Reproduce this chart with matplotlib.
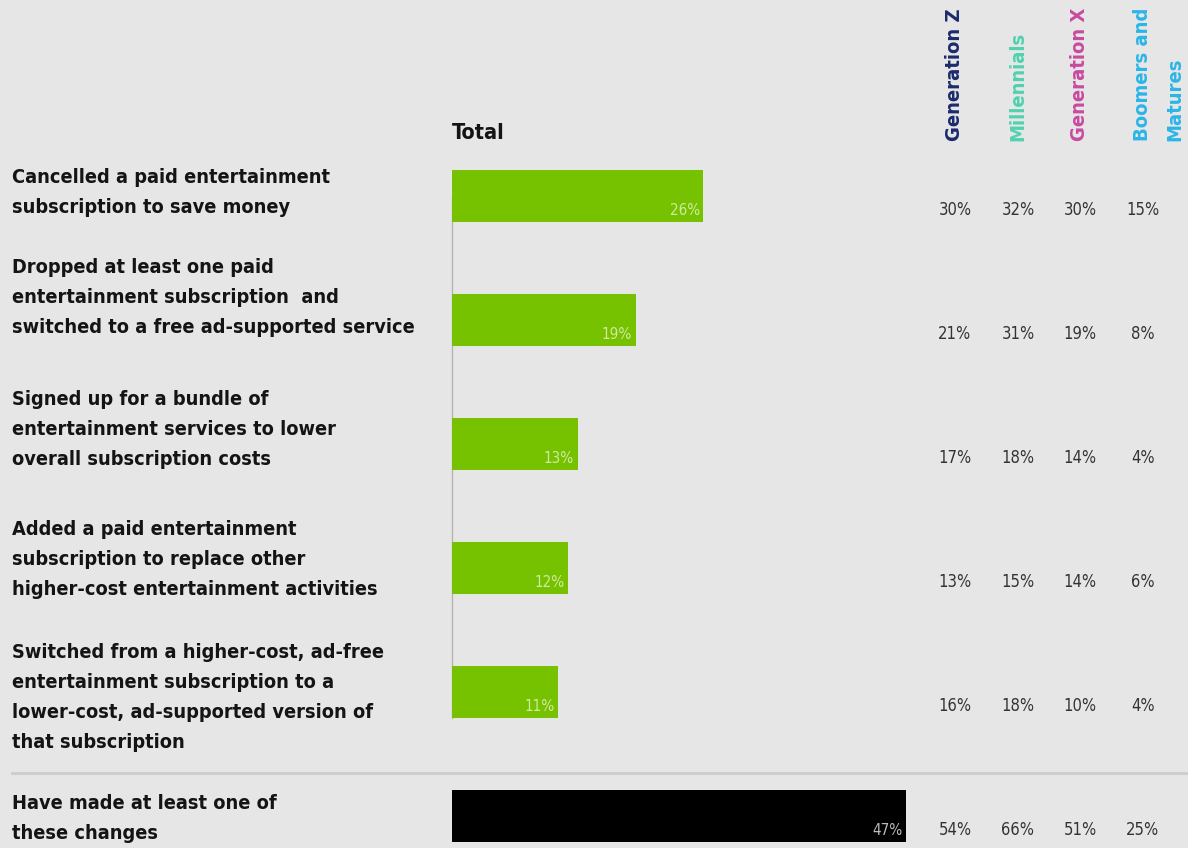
import matplotlib
matplotlib.use('Agg')
import matplotlib.pyplot as plt
from matplotlib import font_manager
from matplotlib.font_manager import FontProperties

# --- data ---
items = [
    "Cancelled a paid entertainment\nsubscription to save money",
    "Dropped at least one paid\nentertainment subscription  and\nswitched to a free ad-supported service",
    "Signed up for a bundle of\nentertainment services to lower\noverall subscription costs",
    "Added a paid entertainment\nsubscription to replace other\nhigher-cost entertainment activities",
    "Switched from a higher-cost, ad-free\nentertainment subscription to a\nlower-cost, ad-supported version of\nthat subscription",
    "Have made at least one of\nthese changes",
]
total = [26, 19, 13, 12, 11, 47]
generations = ["Generation Z", "Millennials", "Generation X", "Boomers and\nMatures"]
gen_z = [30, 21, 17, 13, 16, 54]
millennials = [32, 31, 18, 15, 18, 66]
gen_x = [30, 19, 14, 14, 10, 51]
boomers = [15, 8, 4, 6, 4, 25]

# --- style ---
BG = '#e6e6e6'
GREEN = '#76c100'
gen_colors = ['#1b2a6b', '#4fd1b0', '#c94aa0', '#2bb5e8']


def weight_num(w):
    if isinstance(w, str):
        return {'bold': 700, 'semibold': 600, 'demibold': 600, 'heavy': 800,
                'black': 900, 'medium': 500}.get(w, 400)
    return w


def find_font(bold):
    # prefer an upright narrow / condensed sans face
    for f in sorted(font_manager.fontManager.ttflist, key=lambda f: f.fname):
        narrow = ('Narrow' in f.name or 'Condensed' in f.name
                  or f.stretch in ('condensed', 'semi-condensed', 'extra-condensed'))
        is_bold = weight_num(f.weight) >= 600
        if (narrow and is_bold == bold and f.style == 'normal'
                and 'Mono' not in f.name and 'Serif' not in f.name
                and 'Oblique' not in f.fname and 'Italic' not in f.fname):
            return FontProperties(fname=f.fname)
    for fam in ['Roboto', 'Lato', 'DejaVu Sans']:
        try:
            path = font_manager.findfont(
                FontProperties(family=fam, weight='bold' if bold else 'normal'),
                fallback_to_default=False)
            return FontProperties(fname=path)
        except Exception:
            continue
    return FontProperties(weight='bold' if bold else 'normal')


FB = find_font(True)
FR = find_font(False)

W, H = 1188, 848
PX_PER_PCT = 9.66
BAR_X0 = 452          # pixel x of the bar baseline
ROW0_Y, ROW_STEP = 196, 124
LINE_STEP = 30        # pixel distance between label lines

fig = plt.figure(figsize=(W / 100, H / 100), dpi=100, facecolor=BG)
ax = fig.add_axes([0, 0, 1, 1], facecolor=BG)
ax.set_xlim(-BAR_X0 / PX_PER_PCT, (W - BAR_X0) / PX_PER_PCT)
ax.set_ylim((H - ROW0_Y) / ROW_STEP, -ROW0_Y / ROW_STEP)
ax.axis('off')
renderer = fig.canvas.get_renderer()


def fit(text, fp, target_px, rotation=0):
    t = fig.text(0, 0, text, fontproperties=fp, fontsize=10, rotation=rotation)
    bb = t.get_window_extent(renderer)
    t.remove()
    size = bb.height if rotation else bb.width
    return 10 * target_px / size


def px_x(p):
    return (p - BAR_X0) / PX_PER_PCT


def px_y(p):
    return (p - ROW0_Y) / ROW_STEP


S_LABEL = fit("switched to a free ad-supported service", FB, 402)
S_HEAD = fit("Generation Z", FB, 132, rotation=90)
S_VAL = fit("30%", FR, 33)
S_BAR = fit("26%", FR, 30)
S_TOTAL = fit("Total", FB, 52)

rows = list(range(len(items)))
bar_h = 52 / ROW_STEP
colors = [GREEN] * 5 + ['black']
ax.barh(rows, total, height=bar_h, color=colors, zorder=3)

# baseline and separator
ax.plot([0, 0], [0, 4 + bar_h / 2], color='#b5b5b5', lw=1, zorder=2)
ax.plot([px_x(12), px_x(W)], [px_y(773)] * 2, color='#cccccc', lw=2, zorder=1)

# value labels inside bars
for r, v in zip(rows, total):
    ax.text(v - 0.35, r + 0.12, f'{v}%', ha='right', va='center',
            fontproperties=FR, fontsize=S_BAR,
            color='#cfeaa0' if r < 5 else '#bbbbbb', zorder=4)

# item labels, one text per line (pixel y of the first baseline)
first_baseline = [183, 273, 405, 535, 658, 809]
for lab, by in zip(items, first_baseline):
    for i, line in enumerate(lab.split('\n')):
        ax.text(px_x(12), px_y(by + i * LINE_STEP), line, ha='left', va='baseline',
                fontproperties=FB, fontsize=S_LABEL, color='#141414')

ax.text(px_x(452), px_y(133), 'Total', ha='left', va='center', fontproperties=FB,
        fontsize=S_TOTAL, color='#141414')

# generation columns
col_x = [955, 1018, 1080, 1143]
for gx, name, c, vals in zip(col_x, generations, gen_colors,
                             [gen_z, millennials, gen_x, boomers]):
    for i, line in enumerate(name.split('\n')):
        ax.text(px_x(gx + i * 32), px_y(141), line, rotation=90, ha='center',
                va='bottom', fontproperties=FB, fontsize=S_HEAD, color=c)
    for r, v in zip(rows, vals):
        ax.text(px_x(gx), r + 0.115, f'{v}%', ha='center', va='center',
                fontproperties=FR, fontsize=S_VAL, color='#333333')

fig.savefig('out.png', dpi=100, facecolor=BG)
